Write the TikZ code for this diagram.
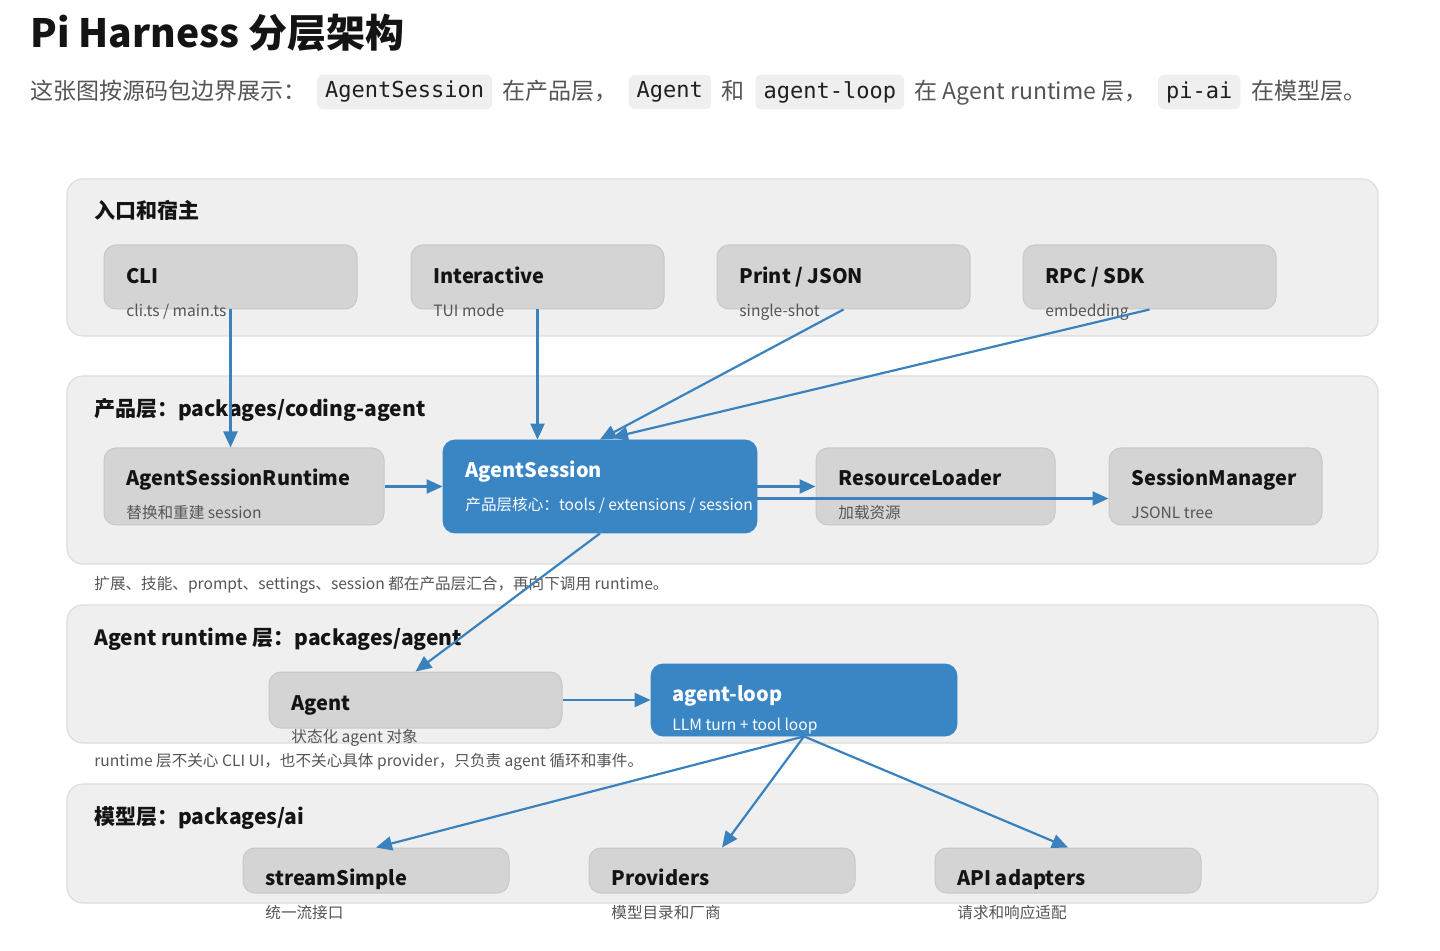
\documentclass[tikz,border=0pt]{standalone}
\usepackage{fontspec}
\setmainfont{Noto Sans CJK SC}
\setmonofont{DejaVu Sans Mono}
\usetikzlibrary{fit,positioning,arrows.meta}

\definecolor{panelfill}{HTML}{EFEFEF}
\definecolor{paneldraw}{HTML}{DDDDDD}
\definecolor{boxfill}{HTML}{D4D4D4}
\definecolor{boxdraw}{HTML}{C8C8C8}
\definecolor{coreblue}{HTML}{3A86C4}
\definecolor{arrowblue}{HTML}{3A82BE}
\definecolor{subgray}{HTML}{555555}

\begin{document}
\begin{tikzpicture}[x=0.5pt, y=-0.5pt,
  panel/.style={draw=paneldraw, fill=panelfill, rounded corners=8pt, line width=0.6pt, inner sep=0pt},
  gbox/.style={draw=boxdraw, fill=boxfill, rounded corners=6pt, line width=0.5pt, inner sep=0pt},
  bbox/.style={draw=coreblue, fill=coreblue, rounded corners=6pt, inner sep=0pt},
  txt/.style={anchor=west, inner sep=0pt, text height=0.88em, text depth=0.12em},
  ptitle/.style={txt, text=black!92, font=\fontsize{10.5}{12}\selectfont\bfseries},
  btitle/.style={txt, text=black!92, font=\fontsize{10}{12}\selectfont\bfseries},
  bsub/.style={txt, text=subgray, font=\fontsize{7.8}{9}\selectfont},
  subtxt/.style={txt, text=subgray, font=\fontsize{11.5}{13}\selectfont},
  code/.style={fill=panelfill, rounded corners=3pt, inner xsep=4pt, minimum height=16pt, text=black!88, font=\fontsize{11}{13}\ttfamily},
  arr/.style={draw=arrowblue, line width=1.1pt, -{Triangle[length=8pt, width=7pt]}}]

  \fill[white] (0,0) rectangle (1440,951);
  \useasboundingbox (0,0) rectangle (1440,951);

  % heading
  \node[txt, text=black!92, font=\fontsize{19.5}{24}\selectfont\bfseries] (title) at (30,40) {Pi Harness 分层架构};
  \node[subtxt] (intro1) at (30,92) {这张图按源码包边界展示：};
  \node[code, right=5pt of intro1] (introC1) {AgentSession};
  \node[subtxt, right=5pt of introC1] (intro2) {在产品层，};
  \node[code, right=5pt of intro2] (introC2) {Agent};
  \node[subtxt, right=5pt of introC2] (intro3) {和};
  \node[code, right=5pt of intro3] (introC3) {agent-loop};
  \node[subtxt, right=5pt of introC3] (intro4) {在 Agent runtime 层，};
  \node[code, right=5pt of intro4] (introC4) {pi-ai};
  \node[subtxt, right=5pt of introC4] (intro5) {在模型层。};

  % layers
  \node[panel, fit={(67,179) (1378,336)}] (entry) {};
  \node[panel, fit={(67,376) (1378,564)}] (product) {};
  \node[panel, fit={(67,605) (1378,743)}] (runtime) {};
  \node[panel, fit={(67,784) (1378,903)}] (model) {};
  \node[ptitle] (entryT) at (94,211) {入口和宿主};
  \node[ptitle] (productT) at (94,409) {产品层：packages/coding-agent};
  \node[ptitle] (runtimeT) at (94,638) {Agent runtime 层：packages/agent};
  \node[ptitle] (modelT) at (94,817) {模型层：packages/ai};
  \node[bsub] (productN) at (94,582) {扩展、技能、prompt、settings、session 都在产品层汇合，再向下调用 runtime。};
  \node[bsub] (runtimeN) at (94,759) {runtime 层不关心 CLI UI，也不关心具体 provider，只负责 agent 循环和事件。};

  % entry points
  \node[gbox, fit={(104,245) (357,309)}] (cli) {};
  \node[gbox, fit={(411,245) (664,309)}] (interactive) {};
  \node[gbox, fit={(717,245) (970,309)}] (print) {};
  \node[gbox, fit={(1023,245) (1276,309)}] (rpc) {};
  \node[btitle] (cliT) at (126,276) {CLI};
  \node[bsub] (cliS) at (126,309) {cli.ts / main.ts};
  \node[btitle] (interactiveT) at (433,276) {Interactive};
  \node[bsub] (interactiveS) at (433,309) {TUI mode};
  \node[btitle] (printT) at (739,276) {Print / JSON};
  \node[bsub] (printS) at (739,309) {single-shot};
  \node[btitle] (rpcT) at (1045,276) {RPC / SDK};
  \node[bsub] (rpcS) at (1045,309) {embedding};

  % product layer
  \node[gbox, fit={(104,448) (384,525)}] (asr) {};
  \node[bbox, fit={(443,440) (757,533)}] (session) {};
  \node[gbox, fit={(816,448) (1055,525)}] (loader) {};
  \node[gbox, fit={(1109,448) (1322,525)}] (manager) {};
  \node[btitle] (asrT) at (126,478) {AgentSessionRuntime};
  \node[bsub] (asrS) at (126,511) {替换和重建 session};
  \node[btitle, text=white] (sessionT) at (465,470) {AgentSession};
  \begin{scope}
    \clip[rounded corners=6pt] (443,440) rectangle (757,533);
    \node[bsub, text=white] (sessionS) at (465,503) {产品层核心：tools / extensions / session};
  \end{scope}
  \node[btitle] (loaderT) at (838,478) {ResourceLoader};
  \node[bsub] (loaderS) at (838,511) {加载资源};
  \node[btitle] (managerT) at (1131,478) {SessionManager};
  \node[bsub] (managerS) at (1131,511) {JSONL tree};

  % runtime layer
  \node[gbox, fit={(269,672) (562,728)}] (agent) {};
  \node[bbox, fit={(651,664) (957,736)}] (loop) {};
  \node[btitle] (agentT) at (291,703) {Agent};
  \node[bsub] (agentS) at (291,735) {状态化 agent 对象};
  \node[btitle, text=white] (loopT) at (672,694) {agent-loop};
  \node[bsub, text=white] (loopS) at (672,723) {LLM turn + tool loop};

  % model layer
  \node[gbox, fit={(243,848) (509,893)}] (stream) {};
  \node[gbox, fit={(589,848) (855,893)}] (providers) {};
  \node[gbox, fit={(935,848) (1201,893)}] (adapters) {};
  \node[btitle] (streamT) at (265,878) {streamSimple};
  \node[bsub] (streamS) at (265,911) {统一流接口};
  \node[btitle] (providersT) at (611,878) {Providers};
  \node[bsub] (providersS) at (611,911) {模型目录和厂商};
  \node[btitle] (adaptersT) at (957,878) {API adapters};
  \node[bsub] (adaptersS) at (957,911) {请求和响应适配};

  % calls
  \draw[arr] (cli.south) -- (cli.south |- asr.north);
  \draw[arr] (interactive.south) -- (interactive.south |- session.north);
  \draw[arr] (print.south) -- (session.north);
  \draw[arr] (rpc.south) -- ([xshift=6pt,yshift=1pt]session.north);
  \draw[arr] (asr.east) -- (session.west |- asr.east);
  \draw[arr] (session.east |- loader.west) -- (loader.west);
  \draw[arr] ([yshift=-6pt]session.east) -- ([yshift=-6pt]manager.west);
  \draw[arr] (session.south) -- (agent.north);
  \draw[arr] (agent.east) -- (loop.west |- agent.east);
  \draw[arr] (loop.south) -- (stream.north);
  \draw[arr] (loop.south) -- (providers.north);
  \draw[arr] (loop.south) -- (adapters.north);
\end{tikzpicture}
\end{document}
